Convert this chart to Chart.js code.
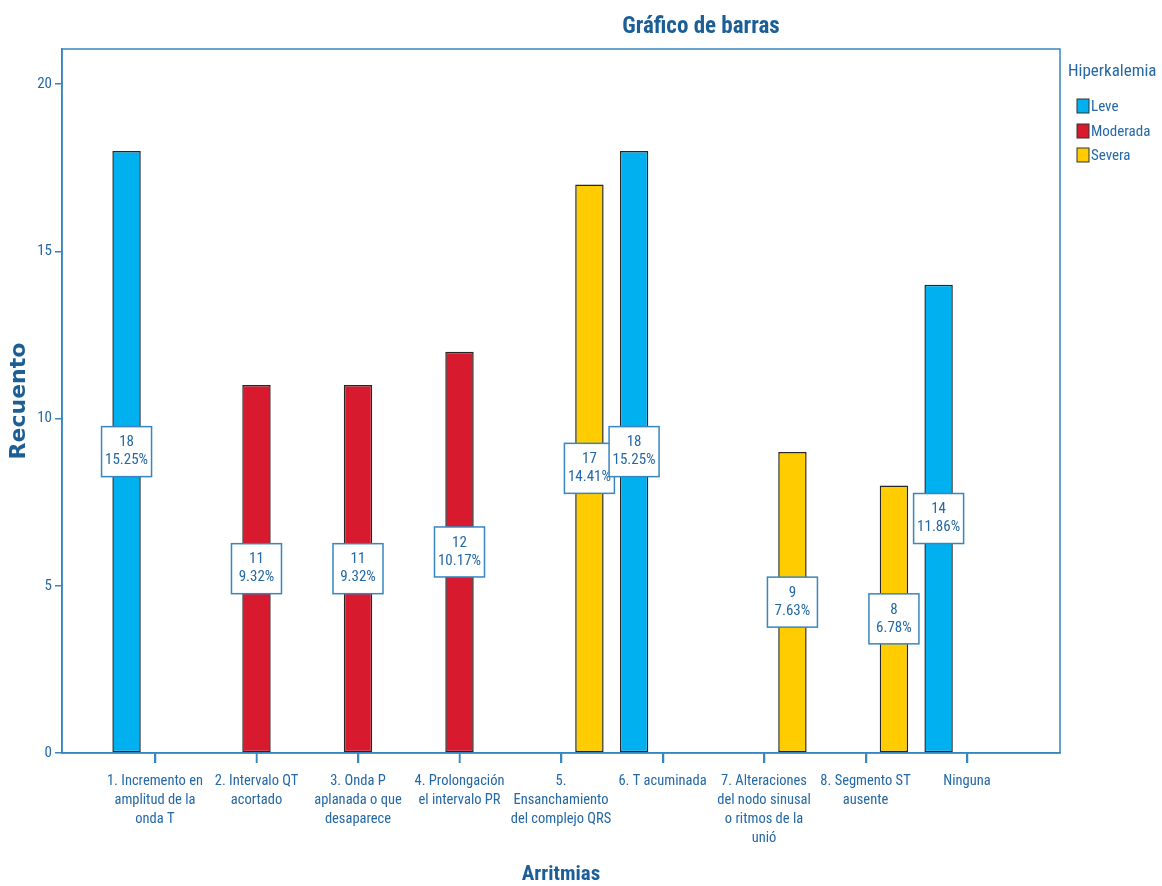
<!DOCTYPE html>
<html>
<head>
<meta charset="utf-8">
<script src="https://cdn.jsdelivr.net/npm/chart.js@4.4.0/dist/chart.umd.min.js"></script>
<style>
  html, body { margin: 0; padding: 0; background: #ffffff; }
</style>
</head>
<body>
<canvas id="barras_Chart" width="1162" height="886"></canvas>
<script>
// categorías del eje X (cada una en líneas)
const categorias = [
    ['1. Incremento en', 'amplitud de la', 'onda T'],
    ['2. Intervalo QT', 'acortado'],
    ['3. Onda P', 'aplanada o que', 'desaparece'],
    ['4. Prolongación', 'el intervalo PR'],
    ['5.', 'Ensanchamiento', 'del complejo QRS'],
    ['6. T acuminada'],
    ['7. Alteraciones', 'del nodo sinusal', 'o ritmos de la', 'unió'],
    ['8. Segmento ST', 'ausente'],
    ['Ninguna']
];

// recuentos por nivel de hiperkalemia
const leve     = [18, null, null, null, null, 18, null, null, 14];
const moderada = [null, 11, 11, 12, null, null, null, null, null];
const severa   = [null, null, null, null, 17, null, 9, 8, null];

const series_nombres = ['Leve', 'Moderada', 'Severa'];
const yTicks = [0, 5, 10, 15, 20];

const COL_LEVE = '#00b0ef';
const COL_MOD = '#d71a2e';
const COL_SEV = '#ffcc00';
const AZUL_TXT = '#2468a6';
const AZUL_EJE = '#3786bf';
const FONT_N = '"Liberation Sans Narrow", "Roboto Condensed", "Arial Narrow", "Liberation Sans", Arial, sans-serif';

const total = [...leve, ...moderada, ...severa].reduce((a, b) => a + (b || 0), 0);

function toPoints(arr){
    return arr.map((v, i) => ({x: i, y: v}));
}

// cajas de etiquetas (recuento y porcentaje)
const etiquetasPlugin = {
    id: 'etiquetas',
    afterDatasetsDraw(chart){
        const ctx = chart.ctx;
        ctx.save();
        for (let i = 0; i < categorias.length; i++) {
            chart.data.datasets.forEach((ds, d) => {
                const v = ds.data[i].y;
                if (v === null) return;
                const el = chart.getDatasetMeta(d).data[i];
                const cx = el.x;
                const cy = (el.y + el.base) / 2;
                const w = 50, h = 50;
                ctx.fillStyle = '#ffffff';
                ctx.fillRect(cx - w / 2, cy - h / 2, w, h);
                ctx.strokeStyle = AZUL_EJE;
                ctx.lineWidth = 1.5;
                ctx.strokeRect(cx - w / 2, cy - h / 2, w, h);
                ctx.fillStyle = AZUL_TXT;
                ctx.font = '15px ' + FONT_N;
                ctx.textAlign = 'center';
                ctx.textBaseline = 'middle';
                ctx.fillText(String(v), cx, cy - 9);
                ctx.fillText((v / total * 100).toFixed(2) + '%', cx, cy + 9);
            });
        }
        ctx.restore();
    }
};

// marco, marcas del eje X, títulos y leyenda
const marcoPlugin = {
    id: 'marco',
    afterDraw(chart){
        const ctx = chart.ctx;
        const a = chart.chartArea;
        ctx.save();
        ctx.strokeStyle = AZUL_EJE;
        ctx.lineWidth = 1.5;
        ctx.strokeRect(a.left, a.top, a.right - a.left, a.bottom - a.top);

        const sx = chart.scales.x;
        ctx.beginPath();
        categorias.forEach((c, i) => {
            const px = Math.round(sx.getPixelForValue(i)) + 0.5;
            ctx.moveTo(px, a.bottom);
            ctx.lineTo(px, a.bottom + 10);
        });
        ctx.stroke();

        ctx.fillStyle = '#1c5f97';
        ctx.textAlign = 'center';
        ctx.textBaseline = 'middle';
        ctx.font = 'bold 23px ' + FONT_N;
        ctx.fillText('Gráfico de barras', 701, 27);
        ctx.font = 'bold 21px ' + FONT_N;
        ctx.fillText('Arritmias', 561, 875);

        ctx.save();
        ctx.translate(19, 401);
        ctx.rotate(-Math.PI / 2);
        ctx.font = 'bold 22px "DejaVu Sans", Verdana, sans-serif';
        ctx.fillText('Recuento', 0, 0);
        ctx.restore();

        // leyenda
        ctx.textAlign = 'left';
        ctx.fillStyle = AZUL_TXT;
        ctx.font = '17px ' + FONT_N;
        ctx.fillText('Hiperkalemia', 1068, 72);
        const ys = [106, 131, 155];
        chart.data.datasets.forEach((ds, d) => {
            ctx.fillStyle = ds.backgroundColor;
            ctx.fillRect(1077, ys[d] - 7, 12, 14);
            ctx.strokeStyle = '#333333';
            ctx.lineWidth = 1;
            ctx.strokeRect(1077, ys[d] - 7, 12, 14);
            ctx.fillStyle = AZUL_TXT;
            ctx.font = '15px ' + FONT_N;
            ctx.fillText(ds.label, 1091, ys[d] + 1);
        });
        ctx.restore();
    }
};

const ctx = document.getElementById('barras_Chart').getContext('2d');

const BarChart = new Chart(ctx, {
    type: 'bar',
    data: {
        datasets: [
            { label: series_nombres[0], data: toPoints(leve), backgroundColor: COL_LEVE },
            { label: series_nombres[1], data: toPoints(moderada), backgroundColor: COL_MOD },
            { label: series_nombres[2], data: toPoints(severa), backgroundColor: COL_SEV }
        ]
    },
    options: {
        responsive: false,
        animation: false,
        devicePixelRatio: 1,
        layout: { padding: { top: 49, right: 102, left: 0, bottom: 0 } },
        datasets: {
            bar: {
                categoryPercentage: 0.84,
                barPercentage: 1.0,
                borderColor: '#262626',
                borderWidth: 1.5,
                borderSkipped: false
            }
        },
        scales: {
            x: {
                type: 'linear',
                offset: false,
                min: -0.916,
                max: 8.916,
                afterBuildTicks: s => { s.ticks = categorias.map((c, i) => ({value: i})); },
                afterFit: s => { s.height = 133; },
                ticks: {
                    callback: v => categorias[Math.round(v)],
                    autoSkip: false,
                    maxRotation: 0,
                    minRotation: 0,
                    padding: 9,
                    color: AZUL_TXT,
                    font: { family: FONT_N, size: 14.5, lineHeight: 1.3 }
                },
                grid: { offset: false, drawOnChartArea: false, tickLength: 10, color: AZUL_EJE, lineWidth: 1.5 },
                border: { color: AZUL_EJE, width: 1.5 }
            },
            y: {
                min: 0,
                max: 21.05,
                afterBuildTicks: s => { s.ticks = yTicks.map(v => ({value: v})); },
                afterFit: s => { s.width = 62; },
                ticks: {
                    padding: 3,
                    color: AZUL_TXT,
                    font: { family: FONT_N, size: 15 }
                },
                grid: { drawOnChartArea: false, tickLength: 7, color: AZUL_EJE, lineWidth: 1.5 },
                border: { color: AZUL_EJE, width: 1.5 }
            }
        },
        plugins: {
            legend: { display: false },
            tooltip: { enabled: false }
        }
    },
    plugins: [etiquetasPlugin, marcoPlugin]
});
</script>
</body>
</html>
